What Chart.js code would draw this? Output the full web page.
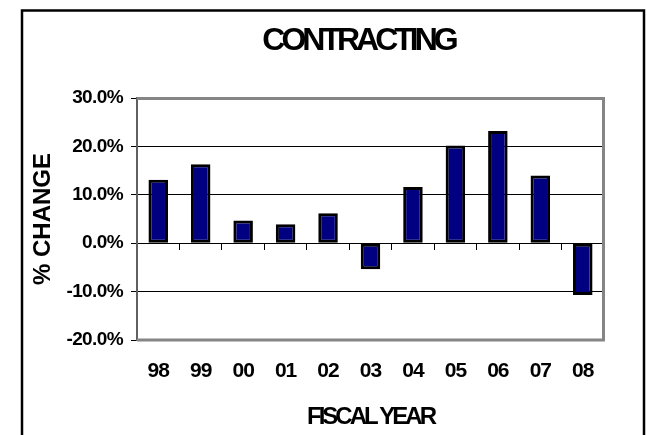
<!DOCTYPE html>
<html>
<head>
<meta charset="utf-8">
<script src="https://cdn.jsdelivr.net/npm/chart.js@4"></script>
<style>
  html, body { margin: 0; padding: 0; background: #fff; }
  canvas { display: block; }
</style>
</head>
<body>
<canvas id="chart" width="647" height="435"></canvas>
<script>
const years = ['98', '99', '00', '01', '02', '03', '04', '05', '06', '07', '08'];
const pctChange = [13.1, 16.3, 4.7, 3.9, 6.2, -5.4, 11.6, 20.2, 23.2, 14.0, -10.7];
const yTicks = [-20, -10, 0, 10, 20, 30];
const chartTitle = 'CONTRACTING';
const xTitle = 'FISCAL YEAR';
const yTitle = '% CHANGE';

const FONT = '"Liberation Sans", Arial, sans-serif';

// wrap a draw method so its text comes out squeezed like the old Excel render
function withSpacing(fn, spacing, dx) {
  return function() {
    const ctx = this.ctx;
    ctx.save();
    ctx.letterSpacing = spacing;
    if (dx) ctx.translate(dx, 0);
    const r = fn.apply(this, arguments);
    ctx.restore();
    return r;
  };
}

const tightText = {
  id: 'tightText',
  beforeDraw(chart) {
    if (chart._tightDone) return;
    chart._tightDone = true;
    const tb = chart.titleBlock;
    tb.draw = withSpacing(tb.draw, '-4px', -12);
    const sx = chart.scales.x, sy = chart.scales.y;
    sx.drawTitle = withSpacing(sx.drawTitle, '-3px');
    sx.drawLabels = withSpacing(sx.drawLabels, '-1px');
    sy.drawLabels = withSpacing(sy.drawLabels, '-0.6px');
  }
};

const frame = {
  id: 'frame',
  beforeDraw(chart) {
    const ctx = chart.ctx;
    ctx.save();
    ctx.fillStyle = '#fff';
    ctx.fillRect(0, 0, chart.width, chart.height);
    ctx.strokeStyle = '#000';
    ctx.lineWidth = 2.5;
    ctx.strokeRect(22, 10.5, 622, 500);
    ctx.restore();
  },
  beforeDatasetsDraw(chart) {
    const {left, top, right, bottom} = chart.chartArea;
    const ctx = chart.ctx;
    ctx.save();
    ctx.strokeStyle = '#858585';
    ctx.lineWidth = 3;
    ctx.beginPath();
    ctx.moveTo(left, top + 0.5);
    ctx.lineTo(right - 0.5, top + 0.5);
    ctx.lineTo(right - 0.5, bottom);
    ctx.lineTo(left, bottom);
    ctx.stroke();
    ctx.restore();
  }
};

new Chart(document.getElementById('chart'), {
  type: 'bar',
  data: {
    labels: years,
    datasets: [{
      data: pctChange,
      xAxisID: 'x',
      backgroundColor: '#000080',
      borderColor: '#000',
      borderWidth: 3,
      borderSkipped: false,
      categoryPercentage: 1,
      barPercentage: 0.46
    }]
  },
  options: {
    responsive: false,
    animation: false,
    layout: { padding: { left: 0, right: 43, top: 0, bottom: 0 } },
    plugins: {
      legend: { display: false },
      tooltip: { enabled: false },
      title: {
        display: true,
        text: chartTitle,
        fullSize: false,
        color: '#000',
        font: { family: FONT, size: 32, weight: 'bold' },
        padding: { top: 22, bottom: 37.6 }
      }
    },
    scales: {
      x: {
        type: 'category',
        position: 'bottom',
        offset: true,
        grid: { display: false, drawTicks: false },
        border: { display: false },
        ticks: {
          color: '#000',
          maxRotation: 0,
          padding: 19,
          font: { family: FONT, size: 21, weight: 'bold' }
        },
        title: {
          display: true,
          text: xTitle,
          color: '#000',
          font: { family: FONT, size: 24, weight: 'bold' },
          padding: { top: 0, bottom: 3 }
        },
        afterFit(s) { s.height = 95; }
      },
      x0: {
        type: 'category',
        axis: 'x',
        position: { y: 0 },
        offset: true,
        grid: {
          offset: true,
          drawOnChartArea: false,
          drawTicks: true,
          tickLength: 6,
          color: '#000',
          lineWidth: 1
        },
        border: { color: '#000', width: 1 },
        ticks: { display: false }
      },
      y: {
        min: yTicks[0],
        max: yTicks[yTicks.length - 1],
        afterBuildTicks(s) { s.ticks = yTicks.map(v => ({ value: v })); },
        grid: { color: '#000', lineWidth: 1, tickLength: 6, tickColor: '#000' },
        border: { color: '#606060', width: 2 },
        ticks: {
          color: '#000',
          padding: 8,
          font: { family: FONT, size: 19, weight: 'bold' },
          callback: v => v.toFixed(1) + '%'
        },
        title: {
          display: true,
          text: yTitle,
          color: '#000',
          font: { family: FONT, size: 24, weight: 'bold' },
          padding: { top: 29, bottom: 0 }
        },
        afterFit(s) { s.width = 137; }
      }
    }
  },
  plugins: [frame, tightText]
});
</script>
</body>
</html>
